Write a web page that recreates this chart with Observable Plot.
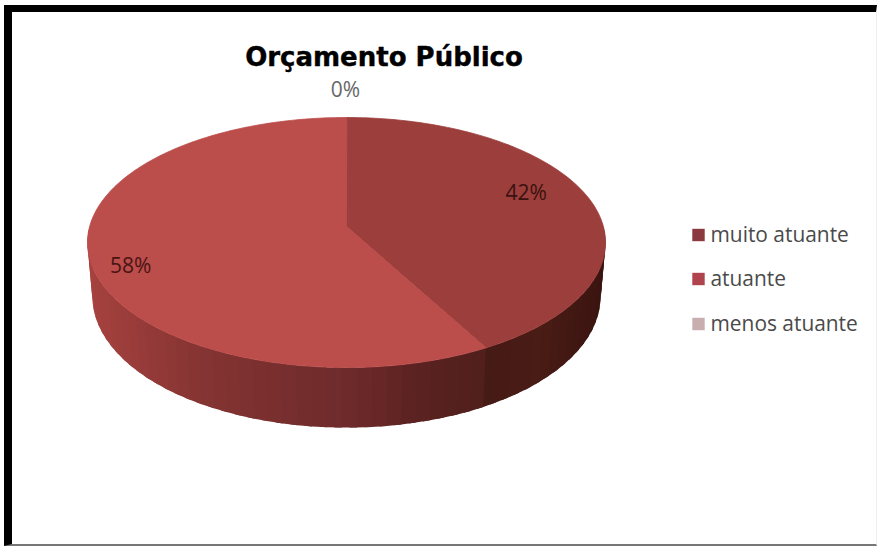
<!DOCTYPE html>
<html lang="pt">
<head>
<meta charset="utf-8">
<title>Orçamento Público</title>
<script src="https://cdn.jsdelivr.net/npm/d3@7"></script>
<script src="https://cdn.jsdelivr.net/npm/@observablehq/plot@0.6"></script>
<style>
  html, body { margin: 0; background: #fff; }
  #chart { position: relative; width: 878px; height: 546px; overflow: hidden; }
  #chart svg { display: block; }
  #border {
    position: absolute; left: 4px; top: 5px; right: 1px; bottom: 0;
    border-left: 8px solid #000; border-top: 7px solid #000;
    border-bottom: 2px solid #777; border-right: 1px solid #eee;
    pointer-events: none;
  }
</style>
</head>
<body>
<div id="chart"><div id="border"></div></div>
<script>
// Chart values
const categories = ["muito atuante", "atuante", "menos atuante"];
const shares = [42, 58, 0];
const chartTitle = "Orçamento Público";

// Colours
const topColors = ["#9c3e3b", "#bb4d4b", "#c9aeb0"];
const legendColors = ["#8a3a3e", "#b0444e", "#c9aeb0"];

// Disc seen in perspective: a point (u, v) of the unit disc, v pointing away from the viewer
const tilt = 0.128;
const flatten = ([u, v]) => [u / (1 + tilt * v), v / (1 + tilt * v)];
const extentX = 1 / Math.sqrt(1 - tilt * tilt);
const nearY = 1 / (1 - tilt), farY = 1 / (1 + tilt);
const midY = (farY - nearY) / 2;

// The lower rim of the wall is a slightly narrower, lower copy of the top rim
const lowerRim = ([x, y]) => [x * 0.981, midY + (y - midY) * 1.048 - 0.44];

const polar = (deg, rho = 1) => {
  const a = deg * Math.PI / 180;
  return [rho * Math.sin(a), rho * Math.cos(a)];
};

// Cumulative slice angles, clockwise from the top
let running = 0;
const slices = shares.map((share, i) => {
  const start = running * 3.6;
  running += share;
  return {category: categories[i], share, start, end: running * 3.6, color: topColors[i]};
});

const rim = (from, to, step = 1) => {
  const n = Math.max(1, Math.round((to - from) / step));
  return d3.range(n + 1).map((k) => flatten(polar(from + (to - from) * k / n)));
};

// Top faces as closed outlines through the centre of the disc
const topRows = slices.filter((s) => s.share > 0).flatMap((s) =>
  [[0, 0], ...rim(s.start, s.end)].map(([x, y]) => ({x, y, slice: s.category, color: s.color}))
);

// Wall shading, darkening towards the right of the disc
const wallShades = [
  d3.scaleLinear().domain([0.5, 0.75, 1]).range(["#441915", "#4a1c16", "#3a1410"]),
  d3.scaleLinear().domain([-1, -0.57, -0.18, 0.016, 0.29, 0.56]).range(["#a6423f", "#853432", "#742d2d", "#6e2a2b", "#5a2220", "#4f1f1b"])
];

// Wall strips for the front half of the disc; each overlaps the next so no seams show
const wallRows = [];
for (const idx of [0, 1]) {
  const s = slices[idx];
  const from = Math.max(s.start, 90), to = Math.min(s.end, 270);
  const n = Math.round((to - from) / 3);
  const stepAngle = (to - from) / n;
  for (let k = 0; k < n; k++) {
    const a = flatten(polar(from + stepAngle * k));
    const b = flatten(polar(from + stepAngle * (k + 1)));
    const c = flatten(polar(Math.min(270, from + stepAngle * (k + 1.5))));
    const color = wallShades[idx]((a[0] + b[0]) / 2 / extentX);
    const id = `${idx}-${k}`;
    for (const [x, y] of [a, b, c, lowerRim(c), lowerRim(b), lowerRim(a)]) wallRows.push({x, y, id, color});
  }
}

// Percentage labels, set at each slice's middle angle and nudged clear of the rim
const labelPlacement = [
  {rho: 0.76, dx: -5, dy: -11, fill: "#3a1210"},
  {rho: 0.84, dx: -1, dy: 13, fill: "#4a1414"},
  {rho: 1, dx: -1, dy: -27, fill: "#666666"}
];
const labelMarks = slices.map((s, i) => {
  const place = labelPlacement[i];
  const [x, y] = flatten(polar((s.start + s.end) / 2 % 360, place.rho));
  return Plot.text([s], {
    x: () => x, y: () => y, text: (d) => `${d.share}%`,
    dx: place.dx, dy: place.dy, fill: place.fill,
    fontSize: 21, fontFamily: "'Open Sans', sans-serif"
  });
});

// Legend: one swatch and one label per category
const legendMarks = categories.flatMap((c, i) => {
  const dy = [234.5, 278.5, 323.5][i];
  return [
    Plot.dot([c], {frameAnchor: "top-left", dx: 698, dy, symbol: "square", r: 7, fill: legendColors[i]}),
    Plot.text([c], {
      frameAnchor: "top-left", dx: 710, dy, text: (d) => d, textAnchor: "start", lineAnchor: "middle",
      fill: "#4a4a4a", fontSize: 20.9, fontFamily: "'Open Sans', sans-serif"
    })
  ];
});

const chart = Plot.plot({
  width: 878,
  height: 546,
  margin: 0,
  x: {axis: null, domain: [-extentX, extentX], range: [87, 605]},
  y: {axis: null, domain: [-nearY, farY], range: [367, 117]},
  color: {type: "identity"},
  marks: [
    Plot.line(wallRows, {x: "x", y: "y", z: "id", fill: "color", stroke: null, curve: "linear-closed"}),
    Plot.line(topRows, {x: "x", y: "y", z: "slice", fill: "color", stroke: "color", strokeWidth: 0.8, curve: "linear-closed"}),
    ...labelMarks,
    Plot.text([chartTitle], {
      frameAnchor: "top-left", dx: 383.5, dy: 57, text: (d) => d, textAnchor: "middle", lineAnchor: "middle",
      fontFamily: "'DejaVu Sans', sans-serif", fontWeight: "bold", fontSize: 26, fill: "#000",
      stroke: "#000", strokeWidth: 0.4
    }),
    ...legendMarks
  ]
});

document.getElementById("chart").prepend(chart);
</script>
</body>
</html>
